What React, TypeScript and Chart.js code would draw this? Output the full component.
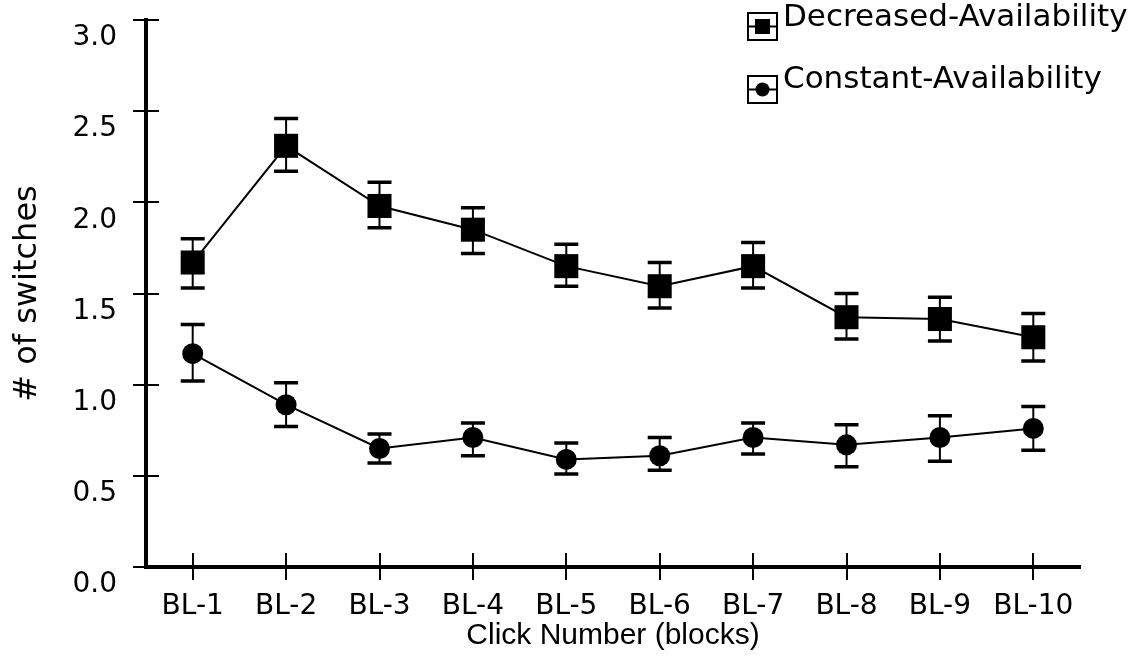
import React, { useEffect, useRef } from 'react';
import { Chart, registerables } from 'chart.js';

Chart.register(...registerables);

const categories = ['BL-1', 'BL-2', 'BL-3', 'BL-4', 'BL-5', 'BL-6', 'BL-7', 'BL-8', 'BL-9', 'BL-10'];
const decreasedMean = [1.67, 2.31, 1.98, 1.85, 1.65, 1.54, 1.65, 1.37, 1.36, 1.26];
const decreasedUpper = [1.80, 2.46, 2.11, 1.97, 1.77, 1.67, 1.78, 1.50, 1.48, 1.39];
const decreasedLower = [1.53, 2.17, 1.86, 1.72, 1.54, 1.42, 1.53, 1.25, 1.24, 1.13];
const constantMean = [1.17, 0.89, 0.65, 0.71, 0.59, 0.61, 0.71, 0.67, 0.71, 0.76];
const constantUpper = [1.33, 1.01, 0.73, 0.79, 0.68, 0.71, 0.79, 0.78, 0.83, 0.88];
const constantLower = [1.02, 0.77, 0.57, 0.61, 0.51, 0.53, 0.62, 0.55, 0.58, 0.64];
const yTicks = [0, 0.5, 1.0, 1.5, 2.0, 2.5, 3.0];
const seriesNames = ['Decreased-Availability', 'Constant-Availability'];
const xTitle = 'Click Number (blocks)';
const yTitle = '# of switches';

const COMIC = '"DejaVu Sans", sans-serif';
const ARIAL = '"Liberation Sans", Arial, sans-serif';

const errorBarPlugin = {
  id: 'errorBars',
  beforeDatasetsDraw(chart: any) {
    const { ctx, scales } = chart;
    const xs = scales.x;
    const ys = scales.y;
    const sets = [
      [decreasedUpper, decreasedLower],
      [constantUpper, constantLower],
    ];
    ctx.save();
    ctx.strokeStyle = '#000';
    sets.forEach(([up, lo]) => {
      up.forEach((u: number, i: number) => {
        const x = xs.getPixelForValue(i);
        const yu = ys.getPixelForValue(u);
        const yl = ys.getPixelForValue(lo[i]);
        ctx.lineWidth = 2;
        ctx.beginPath();
        ctx.moveTo(x, yu);
        ctx.lineTo(x, yl);
        ctx.stroke();
        ctx.lineWidth = 3.5;
        ctx.beginPath();
        ctx.moveTo(x - 12, yu);
        ctx.lineTo(x + 12, yu);
        ctx.moveTo(x - 12, yl);
        ctx.lineTo(x + 12, yl);
        ctx.stroke();
      });
    });
    ctx.restore();
  },
  afterDraw(chart: any) {
    const { ctx, scales, chartArea } = chart;
    const xs = scales.x;
    const ys = scales.y;
    ctx.save();
    ctx.strokeStyle = '#000';
    ctx.lineWidth = 2;
    yTicks.forEach((v) => {
      const y = Math.round(ys.getPixelForValue(v));
      ctx.beginPath();
      ctx.moveTo(chartArea.left - 13, y);
      ctx.lineTo(chartArea.left + 13, y);
      ctx.stroke();
    });
    categories.forEach((_, i) => {
      const x = Math.round(xs.getPixelForValue(i));
      ctx.beginPath();
      ctx.moveTo(x, chartArea.bottom - 14);
      ctx.lineTo(x, chartArea.bottom + 13);
      ctx.stroke();
    });
    const items = [
      { name: seriesNames[0], boxTop: 13, baseline: 26, marker: 'rect' },
      { name: seriesNames[1], boxTop: 76, baseline: 88, marker: 'circle' },
    ];
    items.forEach((it) => {
      const bx = 748;
      const bw = 29;
      const bh = 27;
      const cy = it.boxTop + bh / 2;
      ctx.lineWidth = 2;
      ctx.strokeStyle = '#000';
      ctx.strokeRect(bx, it.boxTop, bw, bh);
      ctx.beginPath();
      ctx.moveTo(bx, cy);
      ctx.lineTo(bx + bw, cy);
      ctx.stroke();
      ctx.fillStyle = '#000';
      if (it.marker === 'rect') {
        ctx.fillRect(bx + bw / 2 - 7.5, cy - 7.5, 15, 15);
      } else {
        ctx.beginPath();
        ctx.arc(bx + bw / 2, cy, 7, 0, Math.PI * 2);
        ctx.fill();
      }
      ctx.font = `31px ${COMIC}`;
      ctx.textAlign = 'left';
      ctx.textBaseline = 'alphabetic';
      ctx.fillText(it.name, 783, it.baseline);
    });
    ctx.restore();
  },
};

export default function App() {
  const canvasRef = useRef<HTMLCanvasElement | null>(null);

  useEffect(() => {
    const canvas = canvasRef.current;
    if (!canvas) return;
    const chart = new Chart(canvas, {
      type: 'line',
      data: {
        labels: categories,
        datasets: [
          {
            label: seriesNames[0],
            data: decreasedMean,
            borderColor: '#000',
            backgroundColor: '#000',
            borderWidth: 2,
            pointStyle: 'rect',
            pointRadius: 17,
            pointBackgroundColor: '#000',
            pointBorderColor: '#000',
            pointBorderWidth: 0,
            tension: 0,
          },
          {
            label: seriesNames[1],
            data: constantMean,
            borderColor: '#000',
            backgroundColor: '#000',
            borderWidth: 2,
            pointStyle: 'circle',
            pointRadius: 10.5,
            pointBackgroundColor: '#000',
            pointBorderColor: '#000',
            pointBorderWidth: 0,
            tension: 0,
          },
        ],
      },
      options: {
        responsive: false,
        animation: false,
        devicePixelRatio: 1,
        layout: { padding: { top: 20, right: 60, left: 0, bottom: 0 } },
        plugins: {
          legend: { display: false },
          tooltip: { enabled: false },
        },
        scales: {
          x: {
            type: 'category',
            offset: true,
            grid: { display: false, drawTicks: false, tickLength: 0 },
            border: { display: true, color: '#000', width: 4 },
            ticks: {
              color: '#000',
              padding: 23,
              font: { family: COMIC, size: 28 },
              maxRotation: 0,
              autoSkip: false,
            },
            title: {
              display: true,
              text: xTitle,
              color: '#000',
              font: { family: ARIAL, size: 30 },
              padding: { top: 0, bottom: 6 },
            },
            afterFit: (scale: any) => {
              scale.height = 93;
              scale.paddingLeft = 0;
              scale.paddingRight = 0;
            },
          },
          y: {
            type: 'linear',
            min: 0,
            max: 3,
            grid: { display: false, drawTicks: false, tickLength: 0 },
            border: { display: true, color: '#000', width: 4 },
            afterBuildTicks: (scale: any) => {
              scale.ticks = yTicks.map((v) => ({ value: v }));
            },
            ticks: {
              color: '#000',
              padding: 29,
              labelOffset: 18,
              font: { family: COMIC, size: 28 },
              callback: (v: any) => Number(v).toFixed(1),
            },
            title: {
              display: true,
              text: yTitle,
              color: '#000',
              font: { family: COMIC, size: 32 },
              padding: { top: 8, bottom: 0 },
            },
            afterFit: (scale: any) => {
              scale.width = 146;
              scale.paddingTop = 0;
              scale.paddingBottom = 0;
            },
          },
        },
      },
      plugins: [errorBarPlugin],
    } as any);
    return () => chart.destroy();
  }, []);

  return (
    <div style={{ position: 'fixed', left: 0, top: 0, width: 1140, height: 660, background: '#fff' }}>
      <canvas ref={canvasRef} width={1140} height={660} />
    </div>
  );
}
